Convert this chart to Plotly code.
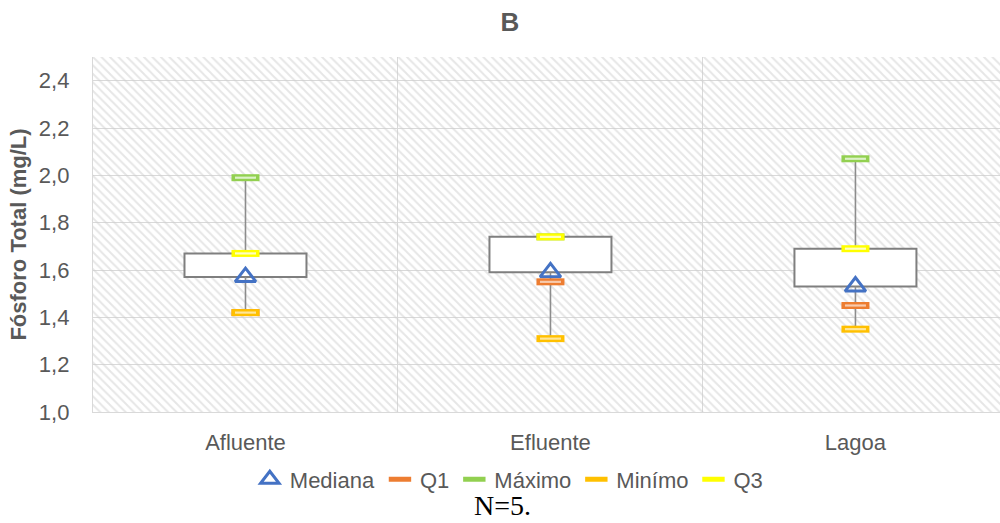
import plotly.graph_objects as go

# Fósforo total por ponto de coleta (mg/L)
categorias = ["Afluente", "Efluente", "Lagoa"]
mediana = [1.57, 1.59, 1.53]
q1 = [1.42, 1.55, 1.45]
maximo = [1.99, 1.74, 2.07]
minimo = [1.42, 1.31, 1.35]
q3 = [1.67, 1.74, 1.69]

FONT = "Liberation Sans, Arial, sans-serif"
TXT = "#595959"
GRID = "#D9D9D9"

fig = go.Figure()

# hatched plot-area background
fig.add_trace(go.Bar(
    x=["Efluente"], y=[1.5], base=[1.0], width=3.2,
    marker=dict(color="rgba(0,0,0,0)", line=dict(width=0),
                pattern=dict(shape="\\", fgcolor="#CDCDCD", bgcolor="rgba(0,0,0,0)",
                             size=6, solidity=0.32)),
    showlegend=False, hoverinfo="skip",
))

# boxes from median to Q3
fig.add_trace(go.Bar(
    x=categorias, y=[b - a for a, b in zip(mediana, q3)], base=mediana, width=0.4,
    marker=dict(color="white", line=dict(color="#7F7F7F", width=2)),
    showlegend=False, hoverinfo="skip",
))

# whiskers: minimum -> median and Q3 -> maximum
wx, wy = [], []
for c, lo, md, up, hi in zip(categorias, minimo, mediana, q3, maximo):
    wx += [c, c, None, c, c, None]
    wy += [lo, md, None, up, hi, None]
fig.add_trace(go.Scatter(
    x=wx, y=wy, mode="lines", line=dict(color="#8C8C8C", width=1.6),
    showlegend=False, hoverinfo="skip",
))

fig.add_trace(go.Scatter(
    x=categorias, y=mediana, mode="markers", name="Mediana",
    marker=dict(symbol="triangle-up-open", size=18, color="#4472C4",
                line=dict(color="#4472C4", width=3)),
    hoverinfo="skip",
))

series = [
    ("Q1", q1, "#ED7D31", "#F8CBAD"),
    ("Máximo", maximo, "#92D050", "#DDF2C8"),
    ("Minímo", minimo, "#FFC000", "#FFE699"),
    ("Q3", q3, "#FFFF00", "#FFFFC0"),
]
for nome, vals, cor, clara in series:
    fig.add_trace(go.Scatter(
        x=categorias, y=vals, mode="markers", name=nome,
        marker=dict(symbol="line-ew-open", size=20, color=cor,
                    line=dict(color=cor, width=7)),
        hoverinfo="skip",
    ))
    fig.add_trace(go.Scatter(
        x=categorias, y=vals, mode="markers", showlegend=False,
        marker=dict(symbol="line-ew-open", size=15, color=clara,
                    line=dict(color=clara, width=2.2)),
        hoverinfo="skip",
    ))

fig.update_layout(
    width=1000, height=523,
    margin=dict(l=93, r=0, t=57, b=111),
    paper_bgcolor="white", plot_bgcolor="white",
    separators=",.",
    barmode="overlay",
    font=dict(family=FONT, size=22, color=TXT),
    title=dict(text="<b>B</b>", x=0.51, xanchor="center", y=0.958, yanchor="middle",
               font=dict(family=FONT, size=26, color=TXT)),
    xaxis=dict(
        type="category", categoryorder="array", categoryarray=categorias,
        range=[-0.5, 2.474], tickson="boundaries", ticks="",
        showgrid=True, gridcolor=GRID, gridwidth=1.3,
        showline=True, linecolor=GRID, linewidth=1.3,
        tickfont=dict(family=FONT, size=22, color=TXT), ticklabelstandoff=10,
        fixedrange=True,
    ),
    yaxis=dict(
        range=[1.0, 2.5], tick0=1.0, dtick=0.2, tickformat=".1f", ticks="",
        showgrid=True, gridcolor=GRID, gridwidth=1.3, zeroline=False,
        showline=True, linecolor=GRID, linewidth=1.3,
        tickfont=dict(family=FONT, size=22, color=TXT), ticklabelstandoff=18,
        title=dict(text="<b>Fósforo Total (mg/L)</b>", standoff=6,
                   font=dict(family=FONT, size=22, color=TXT)),
        fixedrange=True,
    ),
    legend=dict(
        orientation="h", x=0.459, xanchor="center", y=-0.19, yanchor="middle",
        bgcolor="rgba(0,0,0,0)", font=dict(family=FONT, size=22, color=TXT),
        itemwidth=30, tracegroupgap=0,
    ),
    annotations=[dict(
        text="N=5.", xref="paper", yref="paper", x=0.451, y=-0.262,
        xanchor="center", yanchor="middle", showarrow=False,
        font=dict(family="Liberation Serif, Times New Roman, serif", size=28, color="black"),
    )],
)

fig.write_html("out.html")
